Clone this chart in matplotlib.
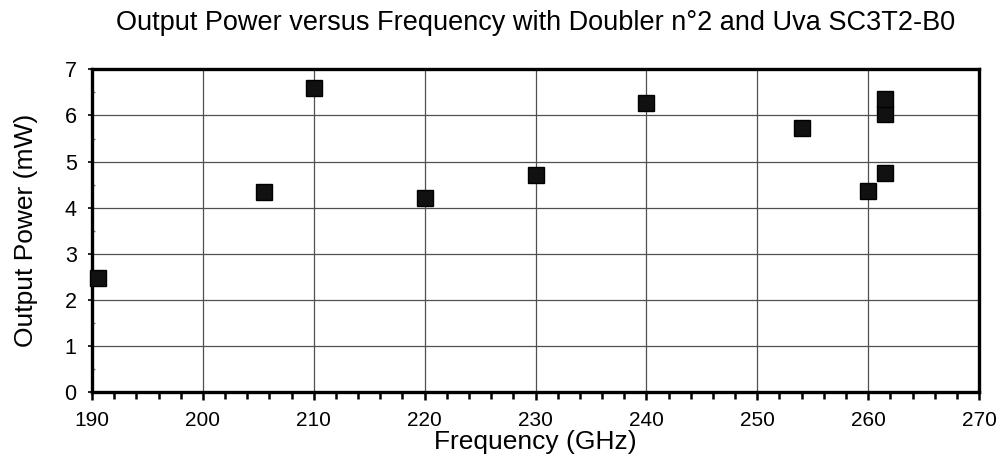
import matplotlib
matplotlib.use("Agg")
import matplotlib.pyplot as plt
from matplotlib.ticker import MultipleLocator

plt.rcParams['font.family'] = ['Liberation Sans', 'DejaVu Sans']

title = "Output Power versus Frequency with Doubler n°2 and Uva SC3T2-B0"
xlabel = "Frequency (GHz)"
ylabel = "Output Power (mW)"

freq_ghz = [190.5, 205.5, 210.0, 220.0, 230.0, 240.0, 254.0, 260.0, 261.5, 261.5, 261.5]
power_mw = [2.48, 4.33, 6.60, 4.20, 4.71, 6.27, 5.72, 4.36, 4.75, 6.03, 6.36]

x_ticks = [190, 200, 210, 220, 230, 240, 250, 260, 270]
y_ticks = [0, 1, 2, 3, 4, 5, 6, 7]

fig = plt.figure(figsize=(9.97, 4.57), dpi=100)
ax = fig.add_axes([0.0923, 0.1422, 0.8897, 0.706])

ax.set_xlim(190, 270)
ax.set_ylim(0, 7)
ax.set_xticks(x_ticks)
ax.set_yticks(y_ticks)
ax.xaxis.set_minor_locator(MultipleLocator(2))
ax.yaxis.set_minor_locator(MultipleLocator(0.5))

ax.grid(True, which='major', color='#505050', linewidth=0.9)
ax.set_axisbelow(True)

for s in ax.spines.values():
    s.set_linewidth(2.4)
    s.set_color('black')

ax.tick_params(axis='x', which='major', direction='out', length=6, width=1.8,
               labelsize=15, pad=8)
ax.tick_params(axis='x', which='minor', direction='out', length=5, width=1.8)
ax.tick_params(axis='y', which='major', direction='out', length=3, width=1.2,
               labelsize=15.5, pad=8)
ax.tick_params(axis='y', which='minor', direction='in', length=2, width=1.0,
               color='#777777')

ax.plot(freq_ghz, power_mw, linestyle='none', marker='s', markersize=11,
        markerfacecolor='#111111', markeredgecolor='black', markeredgewidth=1,
        clip_on=False, zorder=5)

ax.set_xlabel(xlabel, fontsize=19, labelpad=0)
ax.set_ylabel(ylabel, fontsize=19, labelpad=19)
fig.text(0.537, 0.934, title, fontsize=19.5, ha='center', va='baseline')

fig.savefig("out.png", dpi=100)
